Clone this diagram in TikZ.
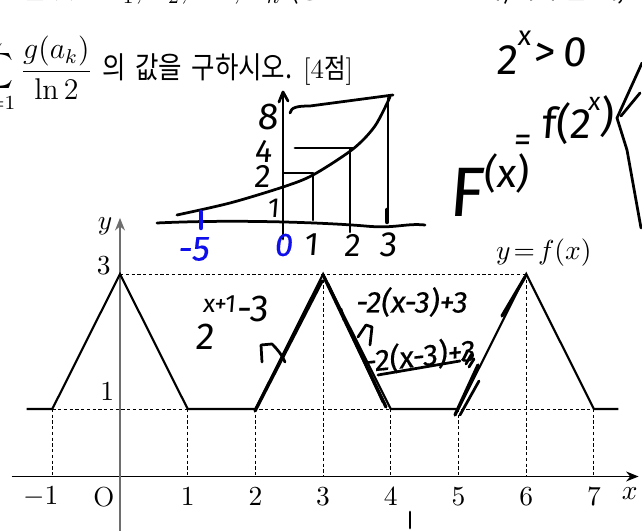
\RequirePackage{fix-cm}
\documentclass[tikz,border=0pt]{standalone}
\usepackage{fontspec}
\usetikzlibrary{arrows.meta}
\newfontfamily\kr[FakeStretch=0.85]{Noto Sans CJK KR}
\newfontfamily\hand[FakeBold=0.4,FakeSlant=0.12]{Fira Sans}
\newfontfamily\handthin[FakeSlant=0.08]{Fira Sans}
\definecolor{hblue}{RGB}{15,15,235}
\definecolor{axgray}{RGB}{110,110,110}
\tikzset{
  hw/.style={line width=1.1pt,line cap=round,line join=round},
  hwt/.style={inner sep=0,font=\hand\fontsize{12}{14}\selectfont},
  lbl/.style={inner sep=0,font=\fontsize{11}{13}\selectfont},
  fn/.style={line width=0.85pt,line join=miter},
  dsh/.style={line width=0.35pt,dash pattern=on 1.3pt off 1pt},
}
\begin{document}
\begin{tikzpicture}[x=0.4pt,y=-0.4pt]
\fill[white] (0,0) rectangle (642,531);
\useasboundingbox (0,0) rectangle (642,531);

% ---------- problem text ----------
\node[anchor=base east,inner sep=0,font=\kr\fontsize{12}{14}\selectfont] (q1a) at (100,-1) {근을 갖는};
\node[anchor=base west,inner sep=0,font=\fontsize{12}{14}\selectfont] (q1b) at (107,-1)
  {$a_1$, $a_2$, $\cdots$, $a_n$ {\kr\fontsize{12}{14}\selectfont (중근은 한 번만 센다)이라 할 때,}};
\node[anchor=base west,inner sep=0,font=\fontsize{12}{14}\selectfont] (q2) at (-24,79)
  {$\displaystyle\sum_{k=1}^{n}\frac{g(a_k)}{\ln 2}$ {\kr\fontsize{12}{14}\selectfont 의\hspace{1.5pt} 값을\hspace{1.5pt} 구하시오.}\hspace{-1pt} {\fontsize{11}{13}\selectfont[4{\kr\fontsize{11}{13}\selectfont 점}]}};

% ---------- main graph ----------
\begin{scope}[shift={(120,476.5)},x=27.08pt,y=27pt]
  \draw[dsh] (0,3) -- (6,3);
  \draw[dsh] (-1,1) -- (7,1);
  \foreach \k in {-1,1,2,4,5,7} \draw[dsh] (\k,1) -- (\k,0);
  \foreach \k in {3,6} \draw[dsh] (\k,3) -- (\k,0);
  \draw[line width=0.45pt,-{Stealth[length=5pt,width=4pt]}] (-1.6,0) -- (7.66,0);
  \draw[axgray,line width=0.6pt,-{Stealth[length=5pt,width=4pt]}] (0,-0.82) -- (0,3.83);
  \draw[fn] (-1.38,1) -- (-1,1) -- (0,3) -- (1,1) -- (2,1) -- (3,3) -- (4,1) -- (5,1) -- (6,3) -- (7,1) -- (7.36,1);
  \node[lbl] (tm1) at (-1.17,-0.3) {$-1$};
  \node[lbl] (t0) at (-0.24,-0.3) {O};
  \foreach \k in {1,...,7} \node[lbl] (t\k) at (\k,-0.3) {$\k$};
  \node[lbl] (xl) at (7.53,-0.26) {$x$};
  \node[lbl] (yl) at (-0.22,3.7) {$y$};
  \node[lbl] (y3) at (-0.24,3.12) {$3$};
  \node[lbl] (y1) at (-0.19,1.25) {$1$};
  \node[lbl] (fl) at (6.26,3.32) {$y\!=\!f(x)$};
\end{scope}

% ---------- handwritten: 2^x > 0 and F(x)=f(2^x) ----------
\node[hwt,font=\handthin\fontsize{17}{18}\selectfont] (h2) at (507,60) {2};
\node[hwt,font=\handthin\fontsize{11}{12}\selectfont] (hx) at (524,38) {x};
\node[hwt,font=\handthin\fontsize{17}{18}\selectfont] (hgt) at (560,52) {>\,0};
\node[hwt,font=\handthin\fontsize{28}{30}\selectfont] (hF) at (466,192) {F};
\node[hwt,font=\handthin\fontsize{16}{18}\selectfont] (hFx) at (506,174) {(x)};
\node[hwt,font=\handthin\fontsize{14}{16}\selectfont] (heq) at (522,143) {=};
\node[hwt,font=\handthin\fontsize{17}{18}\selectfont] (hf) at (566,124) {f(2};
\node[hwt,font=\handthin\fontsize{10}{12}\selectfont] (hfx) at (594,104) {x};
\node[hwt,font=\handthin\fontsize{17}{18}\selectfont] (hfp) at (606,117) {)};
\draw[hw] (642,63) -- (617,118) -- (627,150) -- (641,228);
\draw[hw] (640,93) -- (621,116);

% ---------- handwritten mini graph ----------
\draw[hw] (157,223) .. controls (240,219) and (330,223) .. (365,226) .. controls (395,229) and (405,223) .. (425,225);
\draw[hw] (283,239) -- (283,93);
\draw[hw] (279,102) -- (283,92) -- (288,101);
\draw[hw] plot[smooth] coordinates {(177,215) (230,203) (283,187) (313,175) (353,149) (375,126) (390,97)};
\draw[hw] (290,113) .. controls (291,107) and (298,106) .. (310,106) -- (393,95);
\draw[hw] (295,148) -- (353,148);
\draw[hw] (284,173) -- (313,173);
\draw[hw] (313,174) -- (313,220);
\draw[hw] (350,149) -- (350,232);
\draw[hw] (388,98) -- (388,222);
\draw[hw,line width=1.8pt] (387,210) -- (387,222);
\draw[hw,hblue,line width=1.8pt] (201,212) -- (201,228);
\node[hwt,font=\handthin\fontsize{15}{16}\selectfont] (m8) at (268,117) {8};
\node[hwt,font=\handthin\fontsize{13}{14}\selectfont] (m4) at (263,151) {4};
\node[hwt,font=\handthin\fontsize{13}{14}\selectfont] (m2) at (262,176) {2};
\node[hwt,font=\handthin\fontsize{11}{12}\selectfont] (m1) at (273,208) {1};
\node[hwt,hblue,font=\hand\fontsize{14}{15}\selectfont] (mm5) at (193,249) {-5};
\node[hwt,hblue,font=\hand\fontsize{13}{14}\selectfont] (mo) at (283,245) {0};
\node[hwt,font=\handthin\fontsize{13}{14}\selectfont] (mx1) at (311,245) {1};
\node[hwt,font=\handthin\fontsize{13}{14}\selectfont] (mx2) at (352,245) {2};
\node[hwt,font=\handthin\fontsize{14}{15}\selectfont] (mx3) at (388,245) {3};

% ---------- handwritten on main graph ----------
\node[hwt,font=\handthin\fontsize{15}{16}\selectfont] (a2) at (205,337) {2};
\node[hwt,font=\handthin\fontsize{10}{11}\selectfont] (ax1) at (219,304) {x+1};
\node[hwt,font=\handthin\fontsize{15}{16}\selectfont] (am3) at (252,309) {-3};
\draw[hw] (262,362) -- (261,345) -- (272,344) .. controls (278,350) and (282,355) .. (285,362);
\draw[hw,line width=1.3pt] (255,411) -- (322,281);
\draw[hw,line width=1.3pt] (324,277) -- (386,407);
\draw[hw] (328,284) -- (383,402);
\draw[hw] (341,309) -- (344,320);
\node[hwt] (e1) at (411,302) {-2(x-3)+3};
\draw[hw] (358,337) -- (366,325) -- (372,327) -- (370,345);
\node[hwt,rotate=6] (e2) at (419,356) {-2(x-3)+3};
\draw[hw] (378,375) -- (460,361);
\draw[hw] (463,360) -- (467,352);
\draw[hw] (466,364) -- (471,355);
\draw[hw] (469,367) -- (474,359);
\draw[hw,line width=1.3pt] (455,415) -- (478,365);
\draw[hw] (460,415) -- (479,381);
\draw[hw,line width=1.3pt] (502,316) -- (525,277);
\draw[hw] (410,512) -- (410,528);
\end{tikzpicture}
\end{document}
